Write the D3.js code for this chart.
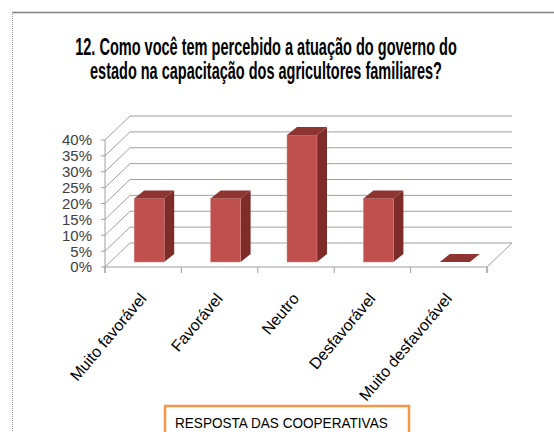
<!DOCTYPE html>
<html>
<head>
<meta charset="utf-8">
<script src="https://cdn.jsdelivr.net/npm/d3@7"></script>
<style>
  body { margin: 0; background: #fff; }
  text { font-family: "Liberation Sans", sans-serif; }
</style>
</head>
<body>
<div class="chart"></div>
<script>
// 3D column chart - resposta das cooperativas

let categories = ["Muito favorável", "Favorável", "Neutro", "Desfavorável", "Muito desfavorável"];
let values = [0.20, 0.20, 0.40, 0.20, 0.0];
let yTicks = [0, 0.05, 0.10, 0.15, 0.20, 0.25, 0.30, 0.35, 0.40];
let titleLines = ["12. Como você tem percebido a atuação do governo do",
                  "estado na capacitação dos agricultores familiares?"];
let legendText = "RESPOSTA DAS COOPERATIVAS";

let svgWidth = 554;
let svgHeight = 432;

// depth of the 3d box (back wall offset) and of each column
let depth = { dx: 25, dy: -24 };
let barFront = { dx: 6, dy: -5 };
let barDepth = { dx: 10, dy: -8 };

let svg = d3.select(".chart")
  .append("svg")
  .attr("width", svgWidth)
  .attr("height", svgHeight)
  .style("display", "block");

svg.append("rect").attr("width", svgWidth).attr("height", svgHeight).attr("fill", "#fff");

// outer frame
svg.append("line").attr("x1", 12).attr("y1", 12.5).attr("x2", svgWidth).attr("y2", 12.5)
  .attr("stroke", "#7f7f7f").attr("stroke-width", 1.5);
svg.append("line").attr("x1", 12.5).attr("y1", 12).attr("x2", 12.5).attr("y2", svgHeight)
  .attr("stroke", "#9a9a9a").attr("stroke-width", 1).attr("stroke-dasharray", "1,1");

// squeeze a text horizontally so it fits a given width (original font is narrow)
function squeeze(sel, x, y, width) {
  let w = sel.node().getComputedTextLength();
  sel.attr("transform", `translate(${x},${y}) scale(${width / w},1)`);
}

// title
titleLines.forEach(function(line, i) {
  let t = svg.append("text")
    .attr("text-anchor", "middle")
    .attr("font-size", "23px")
    .attr("font-weight", "bold")
    .attr("fill", "#000")
    .text(line);
  squeeze(t, 266, 55 + i * 24, i == 0 ? 382 : 352);
});

// scales
let xScale = d3.scaleBand()
  .domain(categories)
  .range([105, 487]);

let yScale = d3.scaleLinear()
  .domain([0, 0.40])
  .range([267, 140]);

let x0 = xScale.range()[0], x1 = xScale.range()[1];
let gridColor = "#a0a0a0";

let chartGroup = svg.append("g");

// back wall + side wall gridlines
yTicks.forEach(function(v) {
  let y = yScale(v);
  chartGroup.append("line")
    .attr("x1", x0).attr("y1", y)
    .attr("x2", x0 + depth.dx).attr("y2", y + depth.dy)
    .attr("stroke", gridColor);
  chartGroup.append("line")
    .attr("x1", x0 + depth.dx).attr("y1", y + depth.dy)
    .attr("x2", x1 + depth.dx).attr("y2", y + depth.dy)
    .attr("stroke", gridColor);
});

// floor right edge
chartGroup.append("line")
  .attr("x1", x1).attr("y1", yScale(0))
  .attr("x2", x1 + depth.dx).attr("y2", yScale(0) + depth.dy)
  .attr("stroke", gridColor);

// left axis (front edge of side wall)
chartGroup.append("line")
  .attr("x1", x0).attr("y1", yScale(0))
  .attr("x2", x0).attr("y2", yScale(0.40))
  .attr("stroke", gridColor);
yTicks.forEach(function(v) {
  chartGroup.append("line")
    .attr("x1", x0 - 4).attr("y1", yScale(v))
    .attr("x2", x0).attr("y2", yScale(v))
    .attr("stroke", gridColor);
  chartGroup.append("text")
    .attr("x", 92)
    .attr("y", yScale(v))
    .attr("dy", "0.36em")
    .attr("text-anchor", "end")
    .attr("font-size", "15px")
    .attr("fill", "#404040")
    .text(d3.format(".0%")(v));
});

// bottom axis
let bottomAxis = d3.axisBottom(xScale).tickSize(6).tickFormat("");
let axisG = chartGroup.append("g")
  .attr("transform", `translate(0, ${yScale(0)})`)
  .call(bottomAxis);
axisG.select(".domain").attr("stroke", gridColor).attr("d", `M${x0},6V0H${x1}V6`);
axisG.selectAll(".tick").attr("transform", (d, i) => `translate(${x0 + i * xScale.bandwidth()},0)`);
axisG.append("g").attr("class", "tick")
  .attr("transform", `translate(${x1},0)`)
  .append("line").attr("y2", 6);
axisG.selectAll(".tick line").attr("stroke", gridColor);

// category labels
chartGroup.selectAll(".cat-label")
  .data(categories)
  .enter()
  .append("text")
  .attr("class", "cat-label")
  .attr("text-anchor", "end")
  .attr("font-size", "16px")
  .attr("fill", "#000")
  .attr("transform", d => `translate(${xScale(d) + xScale.bandwidth() / 2 + 4}, 299) rotate(-50)`)
  .text(d => d);

// columns
let barW = 30;
let frontColor = "#c0504d", sideColor = "#7d2c2a", topColor = "#8e3431";

let bars = chartGroup.selectAll(".bar")
  .data(categories.map((c, i) => ({ cat: c, value: values[i] })))
  .enter()
  .append("g")
  .attr("class", "bar");

bars.each(function(d) {
  let g = d3.select(this);
  let xl = xScale(d.cat) + (xScale.bandwidth() - barW) / 2 + barFront.dx;
  let xr = xl + barW;
  let yb = yScale(0) + barFront.dy;
  let yt = yScale(d.value) + barFront.dy;
  if (d.value > 0) {
    g.append("polygon")
      .attr("points", [[xr, yb], [xr + barDepth.dx, yb + barDepth.dy],
                       [xr + barDepth.dx, yt + barDepth.dy], [xr, yt]].join(" "))
      .attr("fill", sideColor);
    g.append("rect")
      .attr("x", xl).attr("y", yt)
      .attr("width", barW).attr("height", yb - yt)
      .attr("fill", frontColor)
      .attr("stroke", "#d98a88").attr("stroke-width", 0.5);
  }
  g.append("polygon")
    .attr("points", [[xl, yt], [xr, yt], [xr + barDepth.dx, yt + barDepth.dy],
                     [xl + barDepth.dx, yt + barDepth.dy]].join(" "))
    .attr("fill", topColor);
});

// legend box (cut by the bottom edge)
svg.append("rect")
  .attr("x", 165).attr("y", 406)
  .attr("width", 244).attr("height", 60)
  .attr("fill", "#fff")
  .attr("stroke", "#f79646").attr("stroke-width", 2.5);
let legT = svg.append("text")
  .attr("font-size", "15px")
  .attr("fill", "#000")
  .text(legendText);
squeeze(legT, 175, 428, 213);
</script>
</body>
</html>
